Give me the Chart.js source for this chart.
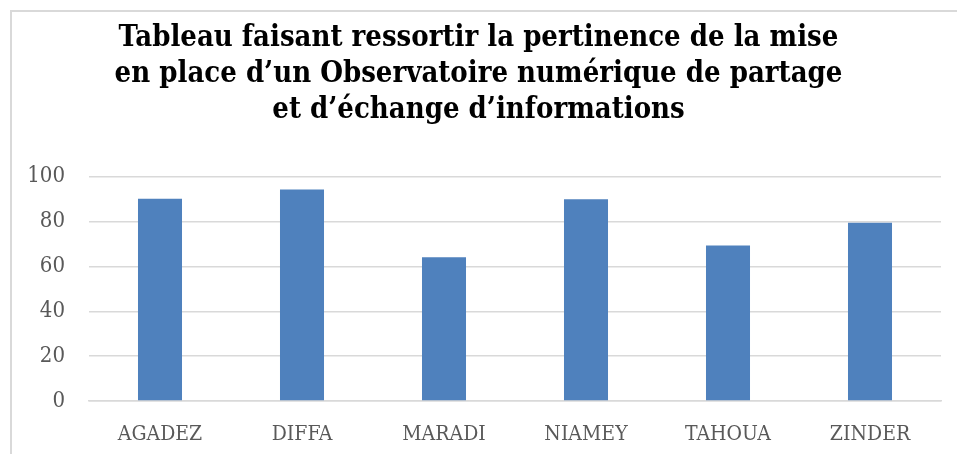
<!DOCTYPE html>
<html>
<head>
<meta charset="utf-8">
<script src="https://cdn.jsdelivr.net/npm/chart.js@4.4.0/dist/chart.umd.min.js"></script>
<style>
  html, body { margin: 0; padding: 0; background: #ffffff; overflow: hidden; }
  #frame { position: absolute; left: 10px; top: 10px; width: 1200px; height: 800px; border: 2px solid #d9d9d9; box-sizing: border-box; }
  #wrap { position: absolute; left: 0; top: 0; width: 957px; height: 454px; }
</style>
</head>
<body>
<div id="frame"></div>
<div id="wrap"><canvas id="c" width="957" height="454"></canvas></div>
<script>
const categories = ["AGADEZ", "DIFFA", "MARADI", "NIAMEY", "TAHOUA", "ZINDER"];
const values = [90.2, 94.3, 64.1, 90.0, 69.3, 79.5];
const yTicks = [0, 20, 40, 60, 80, 100];
const titleLines = [
  "Tableau faisant ressortir la pertinence de la mise",
  "en place d\u2019un Observatoire num\u00e9rique de partage",
  "et d\u2019\u00e9change d\u2019informations"
];

new Chart(document.getElementById("c"), {
  type: "bar",
  data: {
    labels: categories,
    datasets: [{
      data: values,
      backgroundColor: "#4F81BD",
      borderWidth: 0,
      categoryPercentage: 1.0,
      barPercentage: 0.31
    }]
  },
  options: {
    responsive: false,
    animation: false,
    devicePixelRatio: 1,
    layout: { padding: { left: 16, right: 16, top: 0, bottom: 0 } },
    plugins: {
      legend: { display: false },
      tooltip: { enabled: false },
      title: {
        display: true,
        text: titleLines,
        color: "#000000",
        font: { family: "DejaVu Serif Condensed", size: 29, weight: "bold", lineHeight: 1.25 },
        padding: { top: 20, bottom: 48 }
      }
    },
    scales: {
      x: {
        grid: { display: false, drawTicks: false },
        border: { display: true, color: "#d9d9d9", width: 1.5 },
        ticks: { color: "#595959", font: { family: "DejaVu Serif Condensed", size: 21 }, padding: 21, maxRotation: 0 },
        afterFit: (s) => { s.height = 53; }
      },
      y: {
        min: 0, max: 100,
        afterBuildTicks: (s) => { s.ticks = yTicks.map(v => ({ value: v })); },
        grid: { color: "#d9d9d9", lineWidth: 1.5, drawTicks: false },
        border: { display: false },
        ticks: { color: "#595959", font: { family: "DejaVu Serif Condensed", size: 22 }, padding: 24 },
        afterFit: (s) => { s.width = 73; }
      }
    }
  }
});
</script>
</body>
</html>
